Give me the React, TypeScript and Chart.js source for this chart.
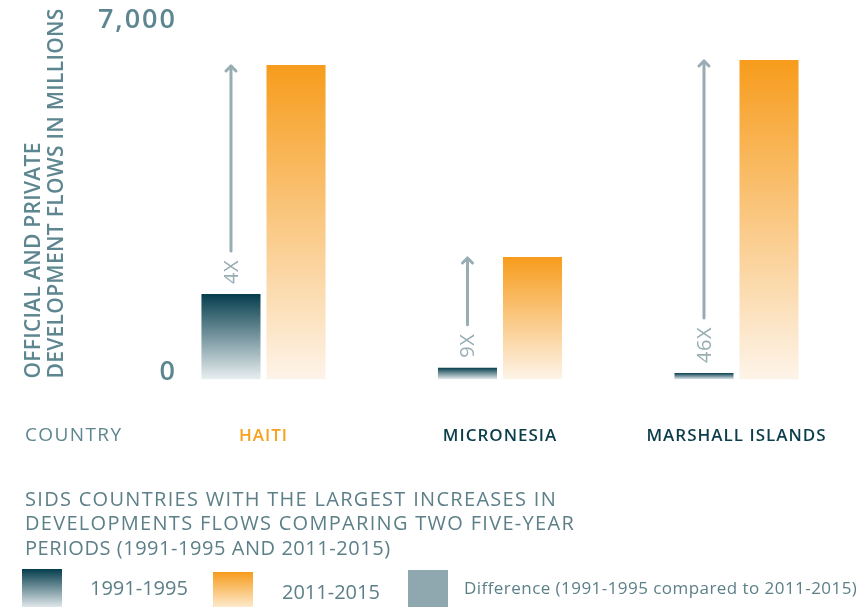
import React, { useEffect, useRef } from 'react';
import { Chart, registerables } from 'chart.js';

Chart.register(...registerables);

const COUNTRIES = ['HAITI', 'MICRONESIA', 'MARSHALL ISLANDS'];
const COUNTRY_COLORS = ['#f7a11f', '#0b3d4a', '#0b3d4a'];
const FLOWS_1991_1995 = [1700, 235, 130];
const FLOWS_2011_2015 = [6245, 2433, 6345];
const RATIO_LABELS = ['4X', '9X', '46X'];
const Y_TICKS = [0, 7000];
const Y_TICK_LABELS = ['0', '7,000'];
const Y_MAX = 7000;
const Y_TITLE = ['OFFICIAL AND PRIVATE', 'DEVELOPMENT FLOWS IN MILLIONS'];
const X_TITLE = 'COUNTRY';
const CHART_TITLE = [
  'SIDS COUNTRIES WITH THE LARGEST INCREASES IN',
  'DEVELOPMENTS FLOWS COMPARING TWO FIVE-YEAR',
  'PERIODS (1991-1995 AND 2011-2015)',
];
const LEGEND_LABELS = ['1991-1995', '2011-2015', 'Difference (1991-1995 compared to 2011-2015)'];

const DARK_TOP = '#053d4d';
const DARK_BOTTOM = '#e9eff1';
const ORANGE_TOP = '#f79c1c';
const ORANGE_BOTTOM = '#fdf4e9';
const ARROW = '#98adb3';
const AXIS_TEXT = '#5d8690';
const TITLE_TEXT = '#5c7f88';
const FONT = "'Open Sans', sans-serif";

function gradientFill(top: string, bottom: string) {
  return (c: any) => {
    const chart = c.chart;
    const area = chart.chartArea;
    const y = chart.scales && chart.scales.y;
    if (!area || !y || c.type !== 'data') return top;
    const t = y.getPixelForValue(c.parsed ? c.parsed.y : c.raw);
    const g = chart.ctx.createLinearGradient(0, t, 0, area.bottom);
    g.addColorStop(0, top);
    g.addColorStop(1, bottom);
    return g;
  };
}

function setSpacing(ctx: any, px: number) {
  if ('letterSpacing' in ctx) ctx.letterSpacing = px + 'px';
}

const decorations = {
  id: 'decorations',
  beforeDraw(chart: any) {
    // slightly wider tracking for the category labels
    setSpacing(chart.ctx, 1);
  },
  afterDraw(chart: any) {
    const { ctx, chartArea } = chart;
    const ys = chart.scales.y;
    const meta0 = chart.getDatasetMeta(0);

    ctx.save();
    // arrows with ratio labels
    setSpacing(ctx, 0.5);
    ctx.font = `400 20px ${FONT}`;
    for (let i = 0; i < COUNTRIES.length; i++) {
      const bar = meta0.data[i];
      const cx = bar.x;
      const barTop = bar.y;
      const tipY = ys.getPixelForValue(FLOWS_2011_2015[i]);
      const w = ctx.measureText(RATIO_LABELS[i]).width;
      const labelBottom = barTop - 10;
      const labelTop = labelBottom - w;
      const lineBottom = labelTop - 9;
      ctx.strokeStyle = ARROW;
      ctx.lineWidth = 3;
      ctx.lineCap = 'round';
      ctx.lineJoin = 'round';
      ctx.beginPath();
      ctx.moveTo(cx, lineBottom);
      ctx.lineTo(cx, tipY + 1);
      ctx.stroke();
      ctx.beginPath();
      ctx.moveTo(cx - 5, tipY + 6);
      ctx.lineTo(cx, tipY + 1);
      ctx.lineTo(cx + 5, tipY + 6);
      ctx.stroke();
      ctx.save();
      ctx.translate(cx, labelBottom);
      ctx.rotate(-Math.PI / 2);
      ctx.fillStyle = ARROW;
      ctx.textAlign = 'left';
      ctx.textBaseline = 'middle';
      ctx.fillText(RATIO_LABELS[i], 0, 1);
      ctx.restore();
    }

    // y tick labels
    ctx.fillStyle = AXIS_TEXT;
    setSpacing(ctx, 2);
    ctx.font = `600 27px ${FONT}`;
    ctx.textAlign = 'right';
    ctx.textBaseline = 'middle';
    Y_TICKS.forEach((v, i) => {
      ctx.fillText(Y_TICK_LABELS[i], 177, ys.getPixelForValue(v) - 7);
    });

    // y title
    setSpacing(ctx, 0.3);
    ctx.font = `600 21px ${FONT}`;
    ctx.textAlign = 'left';
    ctx.textBaseline = 'middle';
    const titleX = [34, 57];
    Y_TITLE.forEach((line, i) => {
      ctx.save();
      ctx.translate(titleX[i], chartArea.bottom - 1);
      ctx.rotate(-Math.PI / 2);
      ctx.fillText(line, 0, 0);
      ctx.restore();
    });

    // x title
    setSpacing(ctx, 1.4);
    ctx.font = `500 19px ${FONT}`;
    ctx.textAlign = 'left';
    ctx.textBaseline = 'middle';
    ctx.fillText(X_TITLE, 25, chartArea.bottom + 56);

    // chart title (bottom)
    ctx.fillStyle = TITLE_TEXT;
    ctx.font = `500 20px ${FONT}`;
    const titleSpacing = [1.3, 1.3, 0.55];
    const titleY = [500, 524.5, 549];
    CHART_TITLE.forEach((line, i) => {
      setSpacing(ctx, titleSpacing[i]);
      ctx.fillText(line, 25, titleY[i]);
    });

    // legend
    const sw = 40;
    const drawSwatch = (x: number, top: number, c0: string, c1: string | null) => {
      if (c1) {
        const g = ctx.createLinearGradient(0, top, 0, 607);
        g.addColorStop(0, c0);
        g.addColorStop(1, c1);
        ctx.fillStyle = g;
      } else {
        ctx.fillStyle = c0;
      }
      ctx.fillRect(x, top, sw, 607 - top);
    };
    drawSwatch(22, 569, DARK_TOP, '#dfe7ea');
    drawSwatch(213, 572, ORANGE_TOP, '#fde9cc');
    drawSwatch(408, 570, '#8fa7ae', null);
    ctx.fillStyle = TITLE_TEXT;
    setSpacing(ctx, 0);
    ctx.font = `500 20px ${FONT}`;
    ctx.fillText(LEGEND_LABELS[0], 90, 589.5);
    ctx.fillText(LEGEND_LABELS[1], 282, 593.5);
    setSpacing(ctx, 0.45);
    ctx.font = `400 17px ${FONT}`;
    ctx.fillText(LEGEND_LABELS[2], 464, 589);
    ctx.restore();
    setSpacing(ctx, 0);
  },
};

export default function App() {
  const ref = useRef<HTMLCanvasElement>(null);
  useEffect(() => {
    document.body.style.margin = '0';
    const chart = new Chart(ref.current as HTMLCanvasElement, {
      type: 'bar',
      data: {
        labels: COUNTRIES,
        datasets: [
          {
            label: LEGEND_LABELS[0],
            data: FLOWS_1991_1995,
            backgroundColor: gradientFill(DARK_TOP, DARK_BOTTOM),
            borderWidth: 0,
            categoryPercentage: 0.55,
            barPercentage: 0.908,
          },
          {
            label: LEGEND_LABELS[1],
            data: FLOWS_2011_2015,
            backgroundColor: gradientFill(ORANGE_TOP, ORANGE_BOTTOM),
            borderWidth: 0,
            categoryPercentage: 0.55,
            barPercentage: 0.908,
          },
        ],
      },
      options: {
        responsive: false,
        animation: false,
        devicePixelRatio: 1,
        layout: { padding: { left: 145.25, right: 2.25, top: 27, bottom: 0 } },
        plugins: { legend: { display: false }, tooltip: { enabled: false } },
        scales: {
          x: {
            display: true,
            grid: { display: false, drawTicks: false },
            border: { display: false },
            ticks: {
              padding: 46,
              color: (c: any) => COUNTRY_COLORS[c.index] || AXIS_TEXT,
              font: { family: FONT, size: 17, weight: '600' },
              maxRotation: 0,
              autoSkip: false,
            },
            afterFit: (s: any) => {
              s.height = 227.5;
              s.paddingLeft = 0;
              s.paddingRight = 0;
            },
          },
          y: {
            display: false,
            min: 0,
            max: Y_MAX,
          },
        },
      },
      plugins: [decorations],
    });
    return () => chart.destroy();
  }, []);
  return (
    <div style={{ width: 857, height: 607 }}>
      <canvas ref={ref} width={857} height={607} style={{ display: 'block' }} />
    </div>
  );
}
